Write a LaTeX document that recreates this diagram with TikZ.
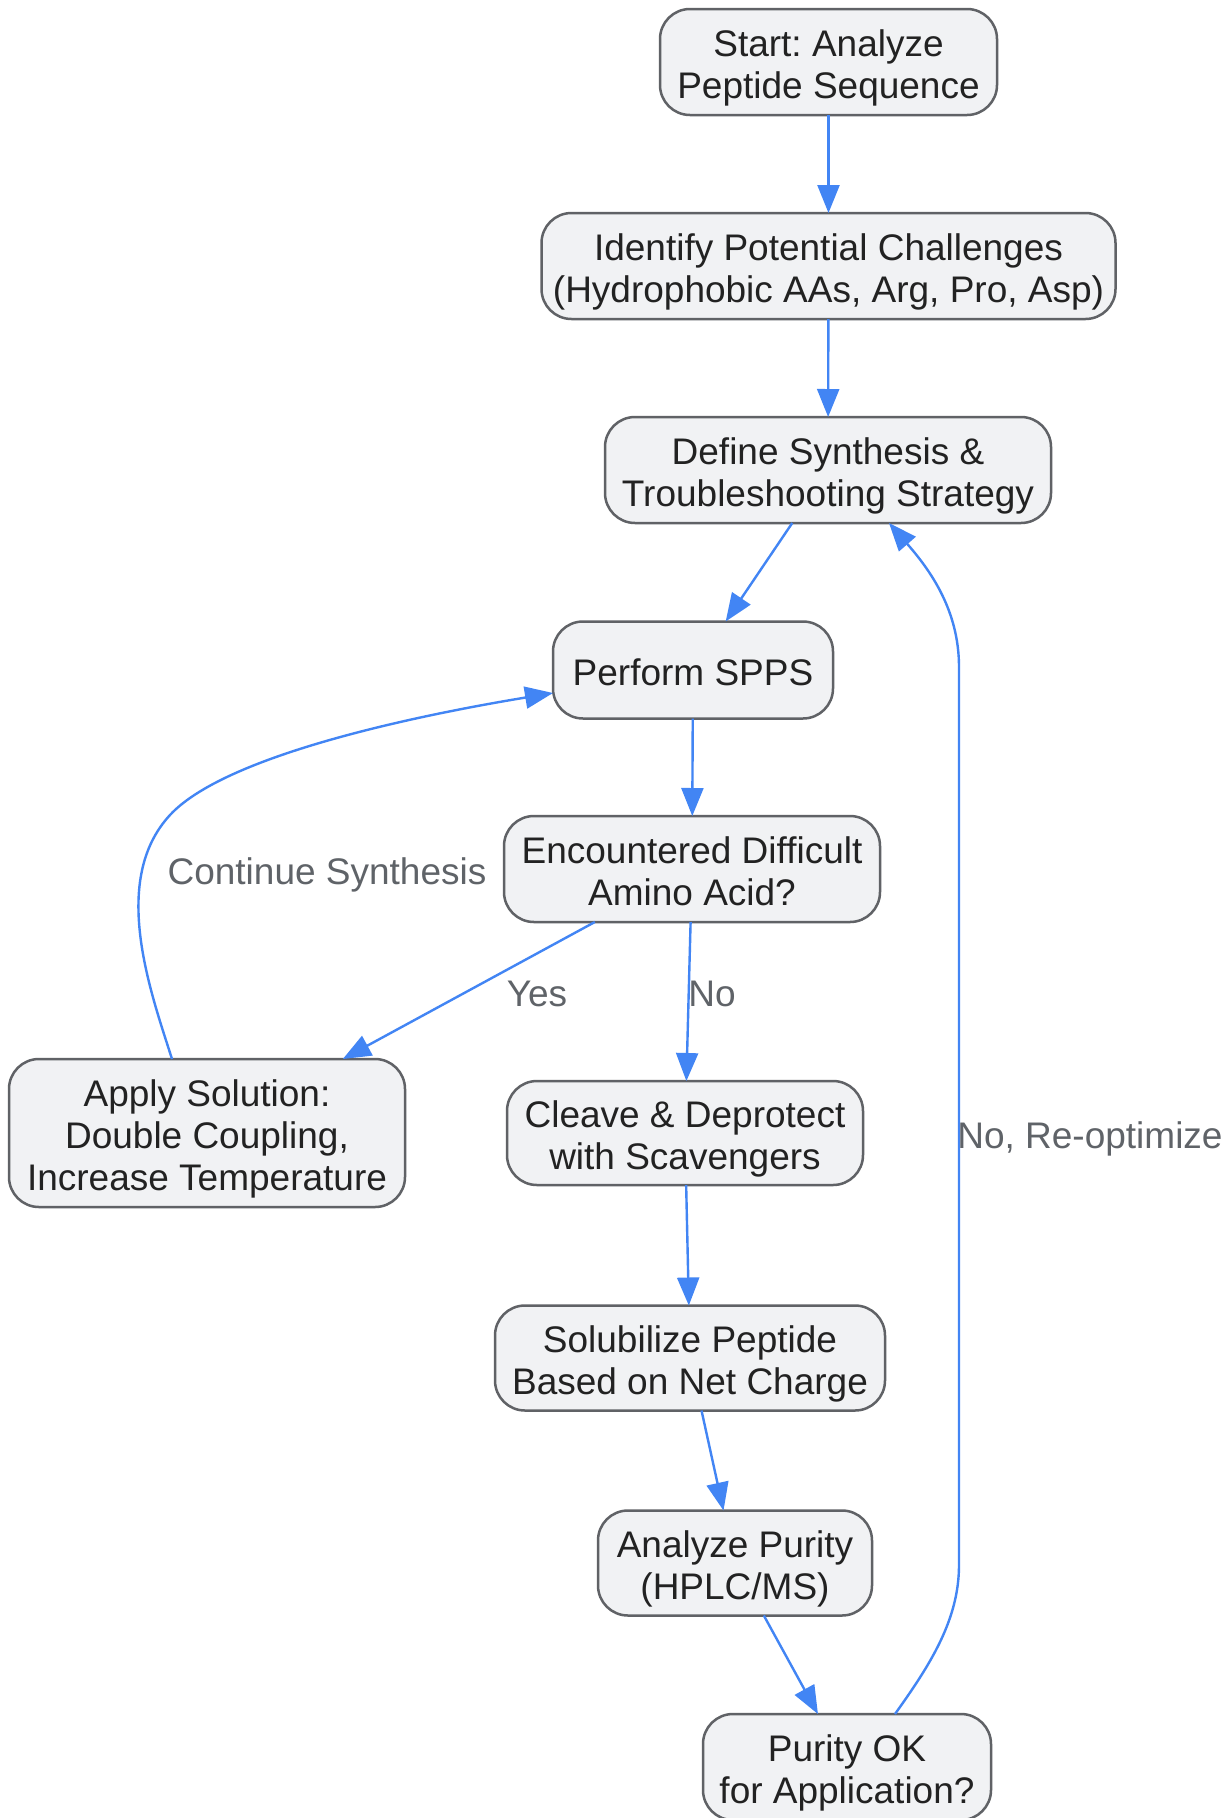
\documentclass[tikz,border=0pt]{standalone}
\usepackage{fontspec}
\setmainfont{Liberation Sans}
\usetikzlibrary{arrows.meta}
\definecolor{nodefill}{HTML}{F1F2F4}
\definecolor{nodeborder}{HTML}{606266}
\definecolor{txt}{HTML}{222222}
\definecolor{edgeblue}{HTML}{4285F4}
\definecolor{lbl}{HTML}{5F6368}
\frenchspacing
\newcommand\tpst{\rule{0pt}{39pt}}
\newcommand\btst{\rule[-8.6pt]{0pt}{8.6pt}}
\begin{document}
\begin{tikzpicture}[x=1pt,y=-1pt,
 box/.style={draw=nodeborder, fill=nodefill, line width=2.5pt, rounded corners=30pt, align=center, text=txt, font=\fontsize{37}{42}\selectfont\frenchspacing, inner sep=0pt, outer sep=0pt},
 flow/.style={draw=edgeblue, line width=2.4pt, -{Triangle[length=28pt,width=22pt]}},
 lab/.style={text=lbl, font=\fontsize{37}{42}\selectfont\frenchspacing, inner sep=0pt, anchor=base}]
\useasboundingbox[fill=white] (0,0) rectangle (1228,1818);

\node[box, minimum width=337pt, minimum height=106pt] (start) at (828.5,62) {\tpst Start: Analyze\\Peptide Sequence\btst};
\node[box, minimum width=574pt, minimum height=106pt] (ident) at (828.5,266) {\tpst Identify Potential Challenges\\(Hydrophobic AAs, Arg, Pro, Asp)\btst};
\node[box, minimum width=446pt, minimum height=106pt] (define) at (828,470) {\tpst Define Synthesis \&\\Troubleshooting Strategy\btst};
\node[box, minimum width=280pt, minimum height=97pt] (perform) at (693,670) {\tpst Perform SPPS\btst};
\node[box, minimum width=376pt, minimum height=106pt] (enc) at (692,869) {\tpst Encountered Difficult\\Amino Acid?\btst};
\node[box, minimum width=396pt, minimum height=148pt] (apply) at (207,1133) {\tpst Apply Solution:\\Double Coupling,\\Increase Temperature\btst};
\node[box, minimum width=356pt, minimum height=104pt] (cleave) at (685,1133) {\tpst Cleave \& Deprotect\\with Scavengers\btst};
\node[box, minimum width=390pt, minimum height=105pt] (solub) at (690,1358) {\tpst Solubilize Peptide\\Based on Net Charge\btst};
\node[box, minimum width=274pt, minimum height=105pt] (analyze) at (735,1563) {\tpst Analyze Purity\\(HPLC/MS)\btst};
\node[box, minimum width=288pt, minimum height=106pt] (purity) at (847,1767) {\tpst Purity OK\\for Application?\btst};

\draw[flow] (start) -- (ident);
\draw[flow] (ident) -- (define);
\draw[flow] (define) -- (perform);
\draw[flow] (perform) -- (enc);
\draw[flow] (enc) -- (apply);
\draw[flow] (enc) -- (cleave);
\draw[flow] (cleave) -- (solub);
\draw[flow] (solub) -- (analyze);
\draw[flow] (analyze) -- (purity);
\draw[flow] ([xshift=-35pt]apply.north) .. controls (150,990) and (110,880) .. (170,815) .. controls (230,750) and (450,710) .. ([yshift=-23pt]perform.west);
\draw[flow] ([xshift=48pt]purity.north) .. controls (930,1665) and (959,1620) .. (959,1565) -- (959,667) .. controls (959,610) and (930,570) .. ([xshift=61pt]define.south);

\node[lab] (lcont) at (327,884) {Continue Synthesis};
\node[lab] (lyes) at (537,1006) {Yes};
\node[lab] (lno) at (712,1006) {No};
\node[lab] (lreopt) at (1090,1148) {No, Re-optimize};
\end{tikzpicture}
\end{document}
